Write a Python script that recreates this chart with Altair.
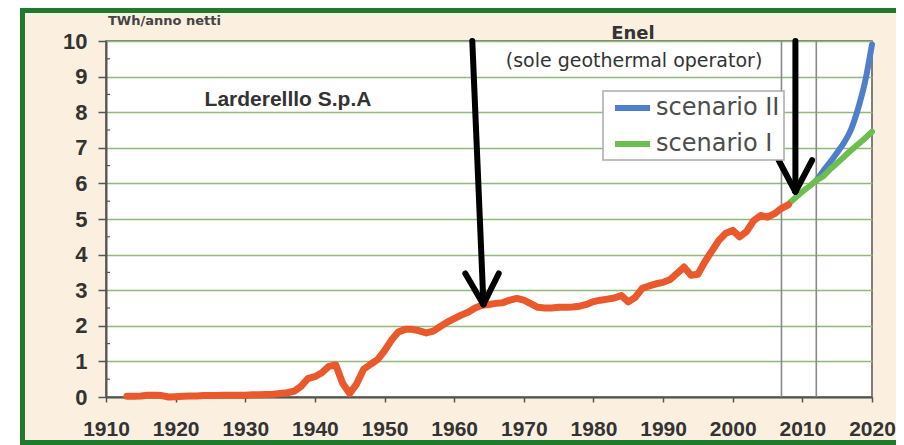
import altair as alt
import pandas as pd

# ---------------- data ----------------
years = list(range(1913, 2009))
twh = [
    0.02, 0.02, 0.03, 0.05, 0.05, 0.04, 0.00, 0.01, 0.02, 0.03,   # 1913-1922
    0.03, 0.04, 0.04, 0.04, 0.05, 0.05, 0.05, 0.05, 0.06, 0.06,   # 1923-1932
    0.07, 0.08, 0.10, 0.12, 0.16, 0.30, 0.52, 0.57, 0.68, 0.86,   # 1933-1942
    0.90, 0.38, 0.10, 0.37, 0.78, 0.92, 1.05, 1.30, 1.60, 1.83,   # 1943-1952
    1.90, 1.90, 1.86, 1.80, 1.85, 1.98, 2.10, 2.20, 2.30, 2.38,   # 1953-1962
    2.50, 2.58, 2.60, 2.63, 2.65, 2.72, 2.77, 2.72, 2.62, 2.52,   # 1963-1972
    2.50, 2.50, 2.52, 2.52, 2.53, 2.55, 2.60, 2.68, 2.72, 2.75,   # 1973-1982
    2.78, 2.85, 2.67, 2.80, 3.05, 3.12, 3.18, 3.22, 3.30, 3.47,   # 1983-1992
    3.65, 3.42, 3.45, 3.80, 4.10, 4.40, 4.60, 4.68, 4.50, 4.65,   # 1993-2002
    4.95, 5.10, 5.05, 5.15, 5.30, 5.40,                           # 2003-2008
]

scen1_years = [2008, 2009, 2010, 2011, 2012, 2013, 2014, 2015, 2016, 2017, 2018, 2019, 2020]
scen1_vals = [5.42, 5.60, 5.77, 5.92, 6.08, 6.20, 6.40, 6.57, 6.75, 6.93, 7.10, 7.27, 7.45]

scen2_years = [2012, 2013, 2014, 2015, 2016, 2017, 2018, 2019, 2020]
scen2_vals = [6.08, 6.35, 6.60, 6.87, 7.15, 7.52, 8.10, 8.85, 9.90]

scenario_names = ["scenario II", "scenario I"]

x_ticks = list(range(1910, 2021, 10))
y_ticks = list(range(0, 11))
y_minor = [i + 0.5 for i in range(10)]
vline_years = [2007, 2012]

# arrow segments (shaft + two head strokes), in data units
arrow_x = [1962.6, 1961.6, 1966.4, 2009.0, 2006.6, 2011.4]
arrow_y = [10.0, 3.47, 3.47, 10.0, 6.65, 6.65]
arrow_x2 = [1964.2, 1964.2, 1964.2, 2009.0, 2009.0, 2009.0]
arrow_y2 = [2.62, 2.60, 2.60, 5.78, 5.76, 5.76]

# ---------------- styling ----------------
W, H = 766, 356
ORANGE = "#e9592b"
BLUE = "#4f7fc9"
GREEN = "#6dbd4f"
GRID = "#90b97e"
AXIS = "#555555"
BEIGE = "#fbf0e0"
FRAME = "#1f7a2e"

hist = pd.DataFrame({"year": years, "twh": twh})
s1 = pd.DataFrame({"year": scen1_years, "twh": scen1_vals, "scenario": scenario_names[1]})
s2 = pd.DataFrame({"year": scen2_years, "twh": scen2_vals, "scenario": scenario_names[0]})
arrows = pd.DataFrame({"x": arrow_x, "y": arrow_y, "x2": arrow_x2, "y2": arrow_y2})
vlines = pd.DataFrame({"year": vline_years})
minor = pd.DataFrame({"v": y_minor})
one = pd.DataFrame({"k": [0]})

x_scale = alt.Scale(domain=[1910, 2020], nice=False, zero=False)
y_scale = alt.Scale(domain=[0, 10], nice=False)
color_scale = alt.Scale(domain=scenario_names, range=[BLUE, GREEN])

x_axis = alt.Axis(values=x_ticks, format="d", title=None, grid=False,
                  labelFont="Liberation Sans", labelFontWeight="bold", labelFontSize=21,
                  labelColor="#333333", tickSize=5, tickColor=AXIS, tickWidth=1.5,
                  labelPadding=16, domainColor=AXIS, domainWidth=2, labelFlush=False)
y_axis = alt.Axis(values=y_ticks, title=None, grid=True, gridColor=GRID, gridWidth=1.6,
                  labelFont="Liberation Sans", labelFontWeight="bold", labelFontSize=22,
                  labelColor="#333333", tickSize=8, tickColor=AXIS, tickWidth=1.5,
                  labelPadding=11, domainColor=AXIS, domainWidth=2)


def X(field):
    return alt.X(field, scale=x_scale, axis=x_axis, title=None)


def Y(field):
    return alt.Y(field, scale=y_scale, axis=y_axis, title=None)


# decorative frame: white strip on the left + green border
white_strip = alt.Chart(one).mark_rect(color="white").encode(
    x=alt.value(-98), x2=alt.value(-86), y=alt.value(-33), y2=alt.value(404))
frame = alt.Chart(one).mark_rect(fillOpacity=0, stroke=FRAME, strokeWidth=5).encode(
    x=alt.value(-83.5), x2=alt.value(900), y=alt.value(-30.5), y2=alt.value(401.5))

minor_ticks = alt.Chart(minor).mark_rule(color=AXIS, strokeWidth=1.2).encode(
    y=Y("v:Q"), x=alt.value(0), x2=alt.value(4))

vrules = alt.Chart(vlines).mark_rule(color="#8a8a8a", strokeWidth=1.6).encode(
    x=X("year:Q"), y=alt.value(0), y2=alt.value(H))

legend = alt.Legend(title=None, orient="none", legendX=497, legendY=50,
                    labelFont="DejaVu Sans", labelFontSize=24, labelColor="#4d4d4d",
                    symbolType="M-0.5,0H3", symbolSize=400, symbolStrokeWidth=6,
                    strokeColor="#aaaaaa", fillColor="white", padding=4,
                    rowPadding=11, labelOffset=23, direction="vertical")

line2 = alt.Chart(s2).mark_line(strokeWidth=6, strokeCap="round", interpolate="monotone").encode(
    x=X("year:Q"), y=Y("twh:Q"),
    color=alt.Color("scenario:N", scale=color_scale, legend=legend))
line1 = alt.Chart(s1).mark_line(strokeWidth=6, strokeCap="round", interpolate="monotone").encode(
    x=X("year:Q"), y=Y("twh:Q"),
    color=alt.Color("scenario:N", scale=color_scale, legend=legend))

hist_line = alt.Chart(hist).mark_line(color=ORANGE, strokeWidth=7, strokeJoin="round",
                                      strokeCap="round").encode(
    x=X("year:Q"), y=Y("twh:Q"))

arrow_marks = alt.Chart(arrows).mark_rule(color="black", strokeWidth=6, strokeCap="round").encode(
    x=X("x:Q"), y=Y("y:Q"), x2="x2:Q", y2="y2:Q")


def label(text, x, y, size, weight="bold", font="DejaVu Sans", align="center", color="#333333"):
    return alt.Chart(one).mark_text(text=text, fontSize=size, fontWeight=weight, font=font,
                                    align=align, baseline="middle", color=color).encode(
        x=alt.value(x), y=alt.value(y))


texts = [
    label("TWh/anno netti", 2, -20, 13, align="left", color="#444444"),
    label("Larderelllo S.p.A", 182, 59, 21, font="Liberation Sans"),
    label("Enel", 527, -7, 18),
    label("(sole geothermal operator)", 528, 19.5, 19, weight="normal"),
]

chart = alt.layer(
    white_strip, frame, vrules, minor_ticks, line2, line1, hist_line, arrow_marks, *texts
).properties(
    width=W, height=H,
    autosize=alt.AutoSizeParams(type="none"),
    padding={"left": 98, "top": 33, "right": 24, "bottom": 48},
).configure(background=BEIGE).configure_view(
    stroke=AXIS, strokeWidth=1.5, fill="white"
).configure_legend(strokeWidth=1.5)

chart.save("out.html", embed_options={"renderer": "svg", "actions": False})
